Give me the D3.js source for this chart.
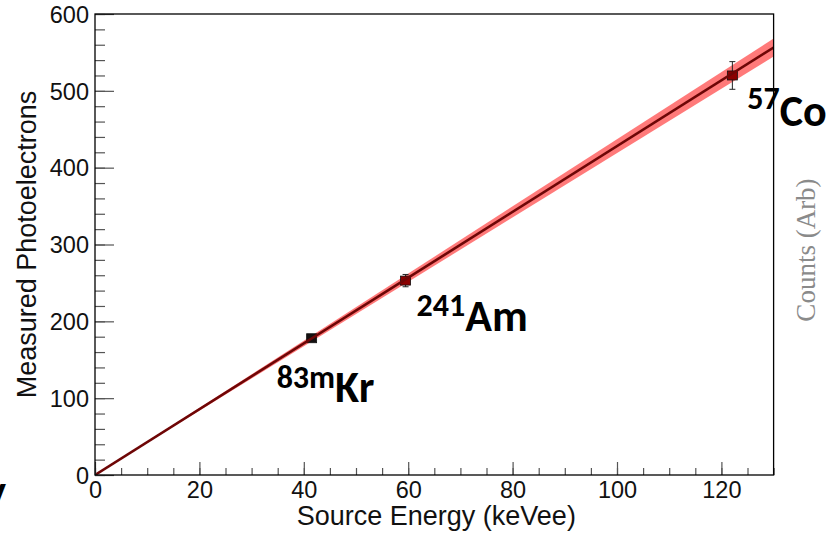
<!DOCTYPE html>
<html>
<head>
<meta charset="utf-8">
<script src="https://cdn.jsdelivr.net/npm/d3@7"></script>
<style>
    body { margin: 0; background: #fff; }
    svg { display: block; }
</style>
</head>
<body>
<div id="chart"></div>
<script>
"use strict";

// calibration sources
const isotopeMass = ["83m", "241", "57"];
const isotopeSymbol = ["Kr", "Am", "Co"];
const energyKeV = [41.5, 59.5, 122.1];
const measuredPE = [178, 253, 520];
const peError = [3, 8, 18];
const markerFill = ["#141010", "#8b0000", "#8b0000"];

// linear fit through the origin
const fitSlope = 4.28;
const fitSlopeErr = 0.09;

// axis ticks
const xMajorTicks = [0, 20, 40, 60, 80, 100, 120];
const xMinorTicks = d3.range(0, 131, 5);
const yMajorTicks = [0, 100, 200, 300, 400, 500, 600];
const yMinorTicks = d3.range(0, 601, 20);

// label placement relative to each point (px): x, baseline, superscript rise
const labelOffset = [[-35, 64, 14], [11, 50, 15], [15, 51, 17]];

const W = 828, H = 533;

let svg = d3.select("#chart")
    .append("svg")
    .attr("width", W)
    .attr("height", H);

svg.append("rect").attr("width", W).attr("height", H).attr("fill", "#fff");

let x = d3.scaleLinear().domain([0, 130]).range([95, 773.6]);
let y = d3.scaleLinear().domain([0, 600]).range([475, 14]);

// error band of the fit
let band = d3.area()
    .x(d => x(d))
    .y0(d => y(d * (fitSlope - fitSlopeErr)))
    .y1(d => y(d * (fitSlope + fitSlopeErr)));

svg.append("defs").append("clipPath").attr("id", "plotClip")
    .append("rect")
    .attr("x", x(0)).attr("y", y(600))
    .attr("width", x(130) - x(0)).attr("height", y(0) - y(600));

let plot = svg.append("g").attr("clip-path", "url(#plotClip)");

plot.append("path")
    .datum(x.domain())
    .attr("d", band)
    .attr("fill", "#ff1a1a")
    .attr("fill-opacity", 0.58);

// error bars
let pts = d3.range(energyKeV.length);
plot.selectAll(".err")
    .data(pts)
    .join("path")
    .attr("class", "err")
    .attr("d", i => {
        let cx = x(energyKeV[i]);
        let y1 = y(measuredPE[i] + peError[i]);
        let y2 = y(measuredPE[i] - peError[i]);
        return `M${cx},${y1}V${y2}M${cx - 3},${y1}H${cx + 3}M${cx - 3},${y2}H${cx + 3}`;
    })
    .attr("stroke", "#222")
    .attr("stroke-width", 1)
    .attr("fill", "none");

// markers
plot.selectAll(".mk")
    .data(pts)
    .join("rect")
    .attr("class", "mk")
    .attr("x", i => x(energyKeV[i]) - 5)
    .attr("y", i => y(measuredPE[i]) - 4.5)
    .attr("width", 10)
    .attr("height", 9)
    .attr("fill", i => markerFill[i])
    .attr("stroke", "#111")
    .attr("stroke-width", 0.8);

// fit line
let fitLine = d3.line()
    .x(d => x(d))
    .y(d => y(d * fitSlope));

plot.append("path")
    .datum(x.domain())
    .attr("d", fitLine)
    .attr("stroke", "#6e0606")
    .attr("stroke-width", 2.6)
    .attr("fill", "none");

// axes (ROOT style: ticks pointing inside)
function drawAxis(axis, tf) {
    let g = svg.append("g").attr("transform", tf).call(axis);
    g.select(".domain").remove();
    g.selectAll(".tick line").attr("stroke", "#555").attr("stroke-width", 1.2);
    g.selectAll("text")
        .attr("font-family", "'Liberation Sans', Arial, sans-serif")
        .attr("font-size", 23.5)
        .attr("fill", "#111");
    return g;
}

drawAxis(d3.axisBottom(x).tickValues(xMinorTicks).tickSize(-7).tickFormat(""),
    `translate(0,${y(0)})`);
let gx = drawAxis(d3.axisBottom(x).tickValues(xMajorTicks).tickSize(-13),
    `translate(0,${y(0)})`);
gx.selectAll("text").attr("y", 6).attr("dy", "0.71em");

drawAxis(d3.axisLeft(y).tickValues(yMinorTicks).tickSize(-10).tickFormat(""),
    `translate(${x(0)},0)`);
let gy = drawAxis(d3.axisLeft(y).tickValues(yMajorTicks).tickSize(-19),
    `translate(${x(0)},0)`);
gy.selectAll("text").attr("x", -6).attr("dy", "0.35em");

// frame
svg.append("rect")
    .attr("x", x(0)).attr("y", y(600))
    .attr("width", x(130) - x(0)).attr("height", y(0) - y(600))
    .attr("fill", "none")
    .attr("stroke", "#000")
    .attr("stroke-width", 1.3);

// axis titles
svg.append("text")
    .attr("x", (x(0) + x(130)) / 2 + 2)
    .attr("y", 525)
    .attr("text-anchor", "middle")
    .attr("font-family", "'Liberation Sans', Arial, sans-serif")
    .attr("font-size", 27)
    .attr("fill", "#111")
    .text("Source Energy (keVee)");

svg.append("text")
    .attr("transform", `translate(36,${(y(0) + y(600)) / 2}) rotate(-90)`)
    .attr("text-anchor", "middle")
    .attr("font-family", "'Liberation Sans', Arial, sans-serif")
    .attr("font-size", 27)
    .attr("fill", "#111")
    .text("Measured Photoelectrons");

// isotope labels
let labels = svg.selectAll(".iso")
    .data(pts)
    .join("text")
    .attr("class", "iso")
    .attr("x", i => x(energyKeV[i]) + labelOffset[i][0])
    .attr("y", i => y(measuredPE[i]) + labelOffset[i][1])
    .attr("font-family", "Carlito, Calibri, Lato, sans-serif")
    .attr("font-weight", "bold")
    .attr("fill", "#000");

labels.append("tspan")
    .attr("font-size", 32)
    .attr("dy", i => -labelOffset[i][2])
    .text(i => isotopeMass[i]);
labels.append("tspan")
    .attr("font-size", 44)
    .attr("dy", i => labelOffset[i][2])
    .text(i => isotopeSymbol[i]);

// neighbouring panel remnants
svg.append("text")
    .attr("transform", "translate(815,250) rotate(-90)")
    .attr("text-anchor", "middle")
    .attr("font-family", "'Liberation Serif', 'DejaVu Serif', serif")
    .attr("font-size", 27)
    .attr("fill", "#8a8a8a")
    .text("Counts (Arb)");

svg.append("text")
    .attr("x", 6)
    .attr("y", 506)
    .attr("text-anchor", "end")
    .attr("font-family", "Carlito, Calibri, Lato, sans-serif")
    .attr("font-weight", "bold")
    .attr("font-size", 44)
    .attr("fill", "#000")
    .text("y");
</script>
</body>
</html>
